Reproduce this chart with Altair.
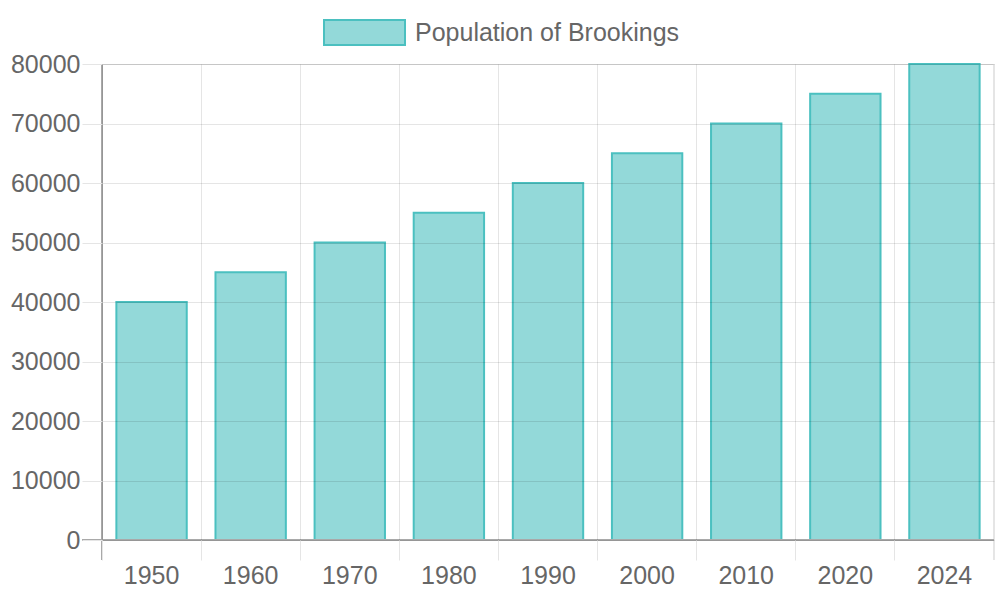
import altair as alt
import pandas as pd

years = ["1950", "1960", "1970", "1980", "1990", "2000", "2010", "2020", "2024"]
population = [40000, 45000, 50000, 55000, 60000, 65000, 70000, 75000, 80000]
series = ["Population of Brookings"] * len(years)

df = pd.DataFrame({"year": years, "population": population, "series": series})

W, H = 892, 476
FONT = "Liberation Sans"
FS = 25

bars = alt.Chart(df).mark_bar(
    stroke="#4bc0c0", strokeWidth=2,
    width=alt.RelativeBandSize(0.71)
).encode(
    x=alt.X("year:N", sort=years, title=None,
            scale=alt.Scale(paddingInner=0, paddingOuter=0),
            axis=alt.Axis(bandPosition=0, labelAngle=0,
                          tickSize=20, labelPadding=3, grid=True,
                          domain=False, ticks=True, tickColor="#e5e5e5",
                          gridColor="#000000", gridOpacity=0.1, zindex=1,
                          labelFontSize=FS, labelFont=FONT,
                          labelColor="#666666")),
    y=alt.Y("population:Q", title=None,
            scale=alt.Scale(domain=[0, 80000], nice=False),
            axis=alt.Axis(values=list(range(0, 80001, 10000)), format="d",
                          tickSize=20, labelPadding=2, grid=True,
                          gridColor="#000000", gridOpacity=0.1, zindex=1,
                          tickColor="#e5e5e5", domain=False,
                          labelFontSize=FS, labelFont=FONT, labelColor="#666666")),
    fill=alt.Fill("series:N", title=None,
                  scale=alt.Scale(range=["#93d9d9"]),
                  legend=alt.Legend(orient="none", legendX=221, legendY=-73,
                                    symbolType="M-1,-0.309 L1,-0.309 L1,0.309 L-1,0.309 Z",
                                    symbolSize=6561, symbolStrokeColor="#4bc0c0",
                                    symbolStrokeWidth=2, symbolOpacity=1,
                                    labelFontSize=FS, labelFont=FONT, labelColor="#666666",
                                    labelLimit=0, labelOffset=9, padding=0, offset=0)),
)

# axis lines (zero line and left line) and right edge line
left_line = alt.Chart(df).mark_rule(color="#a8a8a8", strokeWidth=1).encode(
    x=alt.value(0), y=alt.value(0), y2=alt.value(H + 20))
bottom_line = alt.Chart(df).mark_rule(color="#a8a8a8", strokeWidth=1).encode(
    x=alt.value(-20), x2=alt.value(W), y=alt.value(H))
right_line = alt.Chart(df).mark_rule(color="#e5e5e5", strokeWidth=1).encode(
    x=alt.value(W), y=alt.value(0), y2=alt.value(H + 20))

chart = alt.layer(right_line, bars, left_line, bottom_line).properties(
    width=W, height=H,
    autosize=alt.AutoSizeParams(type="none"),
    padding={"left": 102, "top": 64, "right": 6, "bottom": 60},
).configure_view(stroke=None).configure(background="white")

chart.save("out.html", embed_options={"renderer": "svg", "actions": False})
